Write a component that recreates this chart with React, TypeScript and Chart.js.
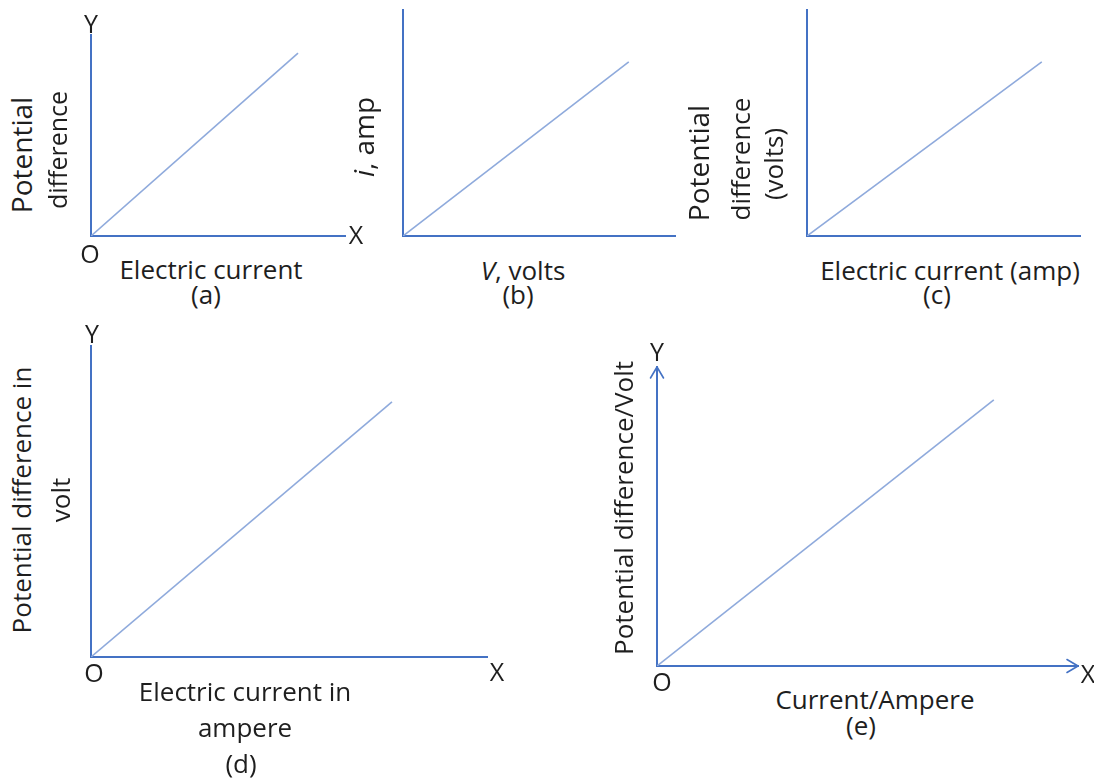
import React, { useEffect, useRef } from "react";
import { Chart, registerables } from "chart.js";

Chart.register(...registerables);

// ---- data (axis range 0..10) ----
const panelIds = ["a", "b", "c", "d", "e"];
const xMax = [10, 10, 10, 10, 10];
const yMax = [10, 10, 10, 10, 10];
const lineEndX = [8.15, 8.3, 8.6, 7.6, 8.0];
const lineEndY = [9.1, 7.7, 7.7, 8.2, 8.9];
const hasArrows = [false, false, false, false, true];

// ---- layout (pixel boxes of each plot area: left, top, right, bottom) ----
const BOX = [
  [91, 35, 345, 236],
  [403, 10, 675, 236],
  [807, 10, 1080, 236],
  [91, 346, 487, 657],
  [657, 367, 1078, 666],
];
const PAD = 12;
const AXIS_COLOR = "#4472C4";
const LINE_COLOR = "#8FAADC";
const TEXT_COLOR = "#1e1e1e";
const FONT = "'Open Sans', 'Noto Sans', sans-serif";

type Label = { t: React.ReactNode; x: number; y: number; rot?: boolean; size?: number };

const LABELS: Label[] = [
  // (a)
  { t: "Y", x: 91, y: 23, size: 25 },
  { t: "X", x: 356, y: 234, size: 25 },
  { t: "O", x: 90, y: 253, size: 25 },
  { t: "Electric current", x: 211, y: 269 },
  { t: "(a)", x: 206, y: 294 },
  { t: "Potential", x: 21, y: 155, rot: true, size: 28 },
  { t: "difference", x: 57, y: 150, rot: true, size: 25 },
  // (b)
  { t: <><i>i</i>, amp</>, x: 363, y: 137, rot: true, size: 28 },
  { t: <><i>V</i>, volts</>, x: 523, y: 270 },
  { t: "(b)", x: 518, y: 294 },
  // (c)
  { t: "Potential", x: 698, y: 163, rot: true, size: 28 },
  { t: "difference", x: 740, y: 159, rot: true },
  { t: "(volts)", x: 773, y: 164, rot: true },
  { t: "Electric current (amp)", x: 950, y: 270 },
  { t: "(c)", x: 937, y: 294 },
  // (d)
  { t: "Y", x: 92, y: 333, size: 25 },
  { t: "X", x: 497, y: 671, size: 25 },
  { t: "O", x: 94, y: 672, size: 25 },
  { t: "Electric current in", x: 245, y: 691 },
  { t: "ampere", x: 245, y: 727 },
  { t: "(d)", x: 241, y: 763 },
  { t: "Potential difference in", x: 21, y: 500, rot: true },
  { t: "volt", x: 60, y: 500, rot: true },
  // (e)
  { t: "Y", x: 657, y: 351, size: 25 },
  { t: "X", x: 1088, y: 673, size: 25 },
  { t: "O", x: 662, y: 681, size: 25 },
  { t: "Current/Ampere", x: 875, y: 699 },
  { t: "(e)", x: 861, y: 725 },
  { t: "Potential difference/Volt", x: 623, y: 508, rot: true },
];

const arrowPlugin = {
  id: "axisArrows",
  afterDraw(chart: any, _args: any, opts: any) {
    if (!opts || !opts.enabled) return;
    const { ctx, chartArea } = chart;
    const { left, right, top, bottom } = chartArea;
    ctx.save();
    ctx.strokeStyle = AXIS_COLOR;
    ctx.lineWidth = 1.6;
    ctx.lineCap = "round";
    ctx.lineJoin = "round";
    ctx.beginPath();
    ctx.moveTo(right - 11, bottom - 6.5);
    ctx.lineTo(right, bottom);
    ctx.lineTo(right - 11, bottom + 6.5);
    ctx.stroke();
    ctx.beginPath();
    ctx.moveTo(left - 6.5, top + 11);
    ctx.lineTo(left, top);
    ctx.lineTo(left + 6.5, top + 11);
    ctx.stroke();
    ctx.restore();
  },
};

function Panel({ idx }: { idx: number }) {
  const ref = useRef<HTMLCanvasElement | null>(null);
  const [l, t, r, b] = BOX[idx];
  const w = r - l + 2 * PAD;
  const h = b - t + 2 * PAD;
  useEffect(() => {
    if (!ref.current) return;
    const chart = new Chart(ref.current, {
      type: "line",
      data: {
        datasets: [
          {
            label: panelIds[idx],
            data: [
              { x: 0, y: 0 },
              { x: lineEndX[idx], y: lineEndY[idx] },
            ],
            borderColor: LINE_COLOR,
            borderWidth: 1.6,
            pointRadius: 0,
            fill: false,
            tension: 0,
          },
        ],
      },
      options: {
        animation: false,
        responsive: false,
        maintainAspectRatio: false,
        events: [],
        layout: { padding: PAD },
        plugins: {
          legend: { display: false },
          tooltip: { enabled: false },
          title: { display: false },
          axisArrows: { enabled: hasArrows[idx] },
        } as any,
        scales: {
          x: {
            type: "linear",
            min: 0,
            max: xMax[idx],
            grid: { display: false },
            ticks: { display: false },
            border: { display: true, color: AXIS_COLOR, width: 2 },
            afterFit: (s: any) => {
              s.height = 0;
              s.paddingLeft = 0;
              s.paddingRight = 0;
            },
          },
          y: {
            type: "linear",
            min: 0,
            max: yMax[idx],
            grid: { display: false },
            ticks: { display: false },
            border: { display: true, color: AXIS_COLOR, width: 2 },
            afterFit: (s: any) => {
              s.width = 0;
              s.paddingTop = 0;
              s.paddingBottom = 0;
            },
          },
        },
      },
      plugins: [arrowPlugin],
    });
    return () => chart.destroy();
  }, [idx]);
  return (
    <canvas
      ref={ref}
      width={w}
      height={h}
      style={{ position: "absolute", left: l - PAD, top: t - PAD, width: w, height: h }}
    />
  );
}

export default function App() {
  return (
    <div
      style={{
        position: "absolute",
        left: 0,
        top: 0,
        width: 1094,
        height: 778,
        background: "#ffffff",
        overflow: "hidden",
        fontFamily: FONT,
        color: TEXT_COLOR,
      }}
    >
      {panelIds.map((_, i) => (
        <Panel key={i} idx={i} />
      ))}
      {LABELS.map((lb, i) => (
        <span
          key={i}
          style={{
            position: "absolute",
            left: lb.x,
            top: lb.y,
            fontSize: lb.size ?? 26,
            lineHeight: 1,
            whiteSpace: "nowrap",
            transform: `translate(-50%, -50%)${lb.rot ? " rotate(-90deg)" : ""}`,
          }}
        >
          {lb.t}
        </span>
      ))}
    </div>
  );
}
